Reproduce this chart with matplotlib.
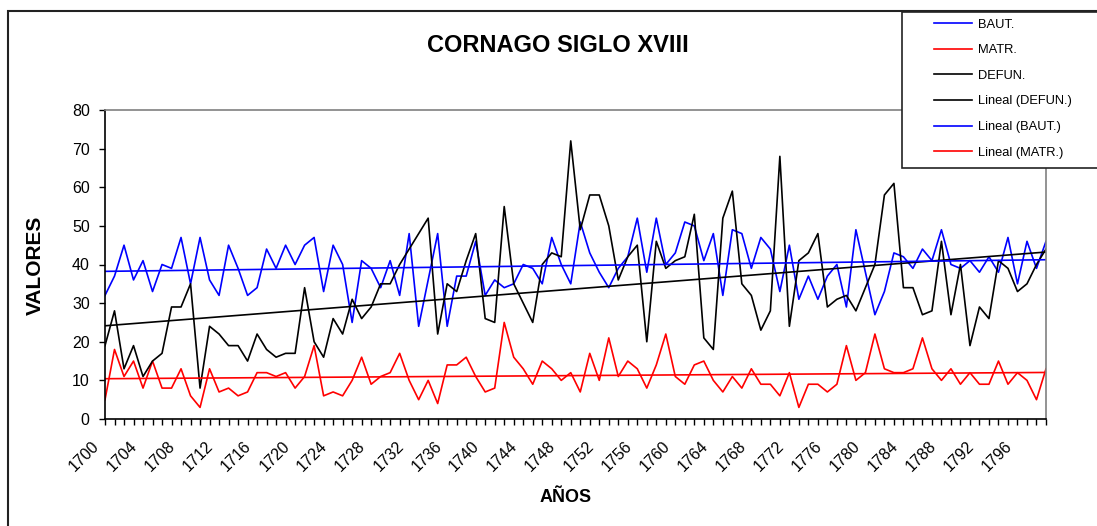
import numpy as np
import matplotlib
matplotlib.use("Agg")
import matplotlib.pyplot as plt
from matplotlib.patches import Rectangle
from matplotlib.transforms import ScaledTranslation

plt.rcParams['font.family'] = ['Liberation Sans', 'DejaVu Sans']

years = list(range(1700, 1800))

bautismos = [32, 37, 45, 36, 41, 33, 40, 39, 47, 35,
             47, 36, 32, 45, 39, 32, 34, 44, 39, 45,
             40, 45, 47, 33, 45, 40, 25, 41, 39, 34,
             41, 32, 48, 24, 36, 48, 24, 37, 37, 46,
             32, 36, 34, 35, 40, 39, 35, 47, 40, 35,
             51, 43, 38, 34, 39, 42, 52, 38, 52, 40,
             43, 51, 50, 41, 48, 32, 49, 48, 39, 47,
             44, 33, 45, 31, 37, 31, 37, 40, 29, 49,
             38, 27, 33, 43, 42, 39, 44, 41, 49, 40,
             39, 41, 38, 42, 38, 47, 35, 46, 39, 46]

matrimonios = [5, 18, 11, 15, 8, 15, 8, 8, 13, 6,
               3, 13, 7, 8, 6, 7, 12, 12, 11, 12,
               8, 11, 19, 6, 7, 6, 10, 16, 9, 11,
               12, 17, 10, 5, 10, 4, 14, 14, 16, 11,
               7, 8, 25, 16, 13, 9, 15, 13, 10, 12,
               7, 17, 10, 21, 11, 15, 13, 8, 14, 22,
               11, 9, 14, 15, 10, 7, 11, 8, 13, 9,
               9, 6, 12, 3, 9, 9, 7, 9, 19, 10,
               12, 22, 13, 12, 12, 13, 21, 13, 10, 13,
               9, 12, 9, 9, 15, 9, 12, 10, 5, 13]

defunciones = [19, 28, 13, 19, 11, 15, 17, 29, 29, 35,
               8, 24, 22, 19, 19, 15, 22, 18, 16, 17,
               17, 34, 20, 16, 26, 22, 31, 26, 29, 35,
               35, 40, 44, 48, 52, 22, 35, 33, 41, 48,
               26, 25, 55, 35, 30, 25, 40, 43, 42, 72,
               49, 58, 58, 50, 36, 42, 45, 20, 46, 39,
               41, 42, 53, 21, 18, 52, 59, 35, 32, 23,
               28, 68, 24, 41, 43, 48, 29, 31, 32, 28,
               34, 40, 58, 61, 34, 34, 27, 28, 46, 27,
               40, 19, 29, 26, 41, 39, 33, 35, 40, 44]


def tendencia(valores):
    x = np.arange(len(valores))
    m, b = np.polyfit(x, valores, 1)
    return m * x + b


W, H = 1097, 526
fig = plt.figure(figsize=(W / 100, H / 100), dpi=100)
ax = fig.add_axes([105 / W, 1 - 419 / H, (1046 - 105) / W, (419 - 110) / H])

lw = 1.2
ax.plot(years, bautismos, color='#0000ff', lw=lw, label='BAUT.')
ax.plot(years, matrimonios, color='#ff0000', lw=lw, label='MATR.')
ax.plot(years, defunciones, color='black', lw=lw, label='DEFUN.')
ax.plot(years, tendencia(defunciones), color='black', lw=lw, label='Lineal (DEFUN.)')
ax.plot(years, tendencia(bautismos), color='#0000ff', lw=lw, label='Lineal (BAUT.)')
ax.plot(years, tendencia(matrimonios), color='#ff0000', lw=lw, label='Lineal (MATR.)')

ax.set_xlim(years[0], years[-1])
ax.set_ylim(0, 80)
ax.set_yticks(range(0, 81, 10))
ax.set_xticks(years)
ax.set_xticklabels([str(y) if (y - 1700) % 4 == 0 else '' for y in years],
                   rotation=45, ha='right', va='center', rotation_mode='anchor')
ax.tick_params(axis='both', direction='out', length=4, width=1, labelsize=11.5, colors='black')
ax.tick_params(axis='x', pad=14)
ax.tick_params(axis='y', pad=7)
off = ScaledTranslation(-8 / 100, 0, fig.dpi_scale_trans)
for lab in ax.get_xticklabels():
    lab.set_transform(lab.get_transform() + off)

for s in ['top', 'right']:
    ax.spines[s].set_color('#808080')
    ax.spines[s].set_linewidth(1.2)
for s in ['left', 'bottom']:
    ax.spines[s].set_color('black')
    ax.spines[s].set_linewidth(1.2)

fig.text(558 / W, 1 - 46 / H, 'CORNAGO SIGLO XVIII', ha='center', va='center',
         fontsize=17, fontweight='bold')
fig.text(35 / W, 1 - 265 / H, 'VALORES', ha='center', va='center', rotation=90,
         fontsize=15, fontweight='bold')
fig.text(566 / W, 1 - 498 / H, 'AÑOS', ha='center', va='center',
         fontsize=13, fontweight='bold')

# marco del grafico y caja de la leyenda
fig.patches.append(Rectangle((8 / W, -0.05), 1.1, 1 - 11 / H + 0.05, transform=fig.transFigure,
                             fill=False, edgecolor='#222222', lw=1.5))
fig.patches.append(Rectangle((902 / W, 1 - 168 / H), 0.3, 156 / H, transform=fig.transFigure,
                             facecolor='white', edgecolor='#222222', lw=1.2, zorder=5))

handles, labels = ax.get_legend_handles_labels()
leg = fig.legend(handles, labels, loc='upper left', bbox_to_anchor=(922 / W, 1 - 7 / H),
                 frameon=False, fontsize=9.3, handlelength=3.0, handletextpad=0.4,
                 labelspacing=1.05, borderpad=0.4)
leg.set_zorder(6)

fig.savefig('out.png', dpi=100)
